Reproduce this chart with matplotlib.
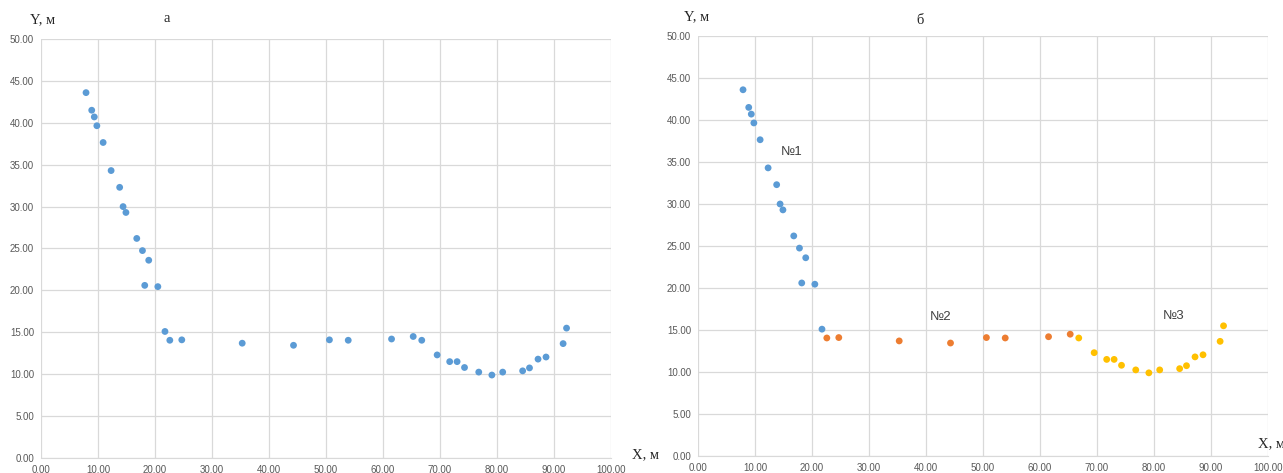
import matplotlib
matplotlib.use("Agg")
import matplotlib.pyplot as plt

# Profile points (X, Y in metres)
x_vals = [7.9, 8.9, 9.35, 9.8, 10.9, 12.3, 13.8, 14.4, 14.9, 16.8, 17.8, 18.9, 18.2, 20.5, 21.75,
          22.6, 24.7, 35.3, 44.3, 50.6, 53.9, 61.5, 65.3,
          66.8, 69.5, 71.7, 73.0, 74.3, 76.8, 79.1, 81.0, 84.5, 85.7, 87.2, 88.6, 91.6, 92.2]
y_vals = [43.6, 41.5, 40.7, 39.65, 37.65, 34.3, 32.3, 30.0, 29.3, 26.2, 24.75, 23.6, 20.6, 20.45, 15.1,
          14.05, 14.1, 13.7, 13.45, 14.1, 14.05, 14.2, 14.5,
          14.05, 12.3, 11.5, 11.5, 10.8, 10.25, 9.9, 10.25, 10.4, 10.75, 11.8, 12.05, 13.65, 15.5]

# Segment sizes for the three sections
segment_sizes = [15, 8, 14]
segment_names = ["№1", "№2", "№3"]
segment_label_pos = [(16.5, 36.2), (42.5, 16.5), (83.5, 16.7)]

tick_vals = [0, 10, 20, 30, 40, 50, 60, 70, 80, 90, 100]
ytick_vals = [0, 5, 10, 15, 20, 25, 30, 35, 40, 45, 50]

BLUE = "#5B9BD5"
ORANGE = "#ED7D31"
YELLOW = "#FFC000"
GRID = "#D9D9D9"
TICK = "#595959"

W, H = 1283, 473
fig = plt.figure(figsize=(W / 100, H / 100), dpi=100)


def px_axes(left, top, right, bottom):
    return fig.add_axes([left / W, 1 - bottom / H, (right - left) / W, (bottom - top) / H])


def style(ax):
    ax.set_xlim(0, 100)
    ax.set_ylim(0, 50)
    ax.set_xticks(tick_vals)
    ax.set_yticks(ytick_vals)
    ax.set_xticklabels([f"{v:.2f}" for v in tick_vals])
    ax.set_yticklabels([f"{v:.2f}" for v in ytick_vals])
    ax.grid(True, color=GRID, linewidth=0.9)
    ax.set_axisbelow(True)
    for s in ax.spines.values():
        s.set_visible(False)
    ax.spines["bottom"].set_visible(True)
    ax.spines["bottom"].set_color(GRID)
    ax.tick_params(length=0, labelsize=7, labelcolor=TICK, pad=5,
                   labelfontfamily="Liberation Sans")


serif = dict(family="Liberation Serif", fontsize=10.5, color="#262626")

# Left panel: whole profile in one colour
ax1 = px_axes(41, 39, 611, 458)
style(ax1)
ax1.scatter(x_vals, y_vals, s=24, color=BLUE, edgecolors="none", zorder=3, clip_on=False)
fig.text(43 / W, 1 - 20 / H, "Y, м", ha="center", va="center", **serif)
fig.text(167 / W, 1 - 18 / H, "а", ha="center", va="center", **serif)
fig.text(645 / W, 1 - 455 / H, "X, м", ha="center", va="center", **serif)

# Right panel: profile split into sections
ax2 = px_axes(698, 36, 1268, 456)
style(ax2)
colors = [BLUE, ORANGE, YELLOW]
start = 0
for n, c, name, pos in zip(segment_sizes, colors, segment_names, segment_label_pos):
    ax2.scatter(x_vals[start:start + n], y_vals[start:start + n], s=24, color=c,
                edgecolors="none", zorder=3, clip_on=False)
    ax2.text(pos[0], pos[1], name, ha="center", va="center", fontsize=9.5,
             color="#404040", family="Liberation Sans")
    start += n
fig.text(697 / W, 1 - 17 / H, "Y, м", ha="center", va="center", **serif)
fig.text(920 / W, 1 - 20 / H, "б", ha="center", va="center", **serif)
fig.text(1271 / W, 1 - 444 / H, "X, м", ha="center", va="center", **serif)

fig.savefig("out.png", dpi=100)
